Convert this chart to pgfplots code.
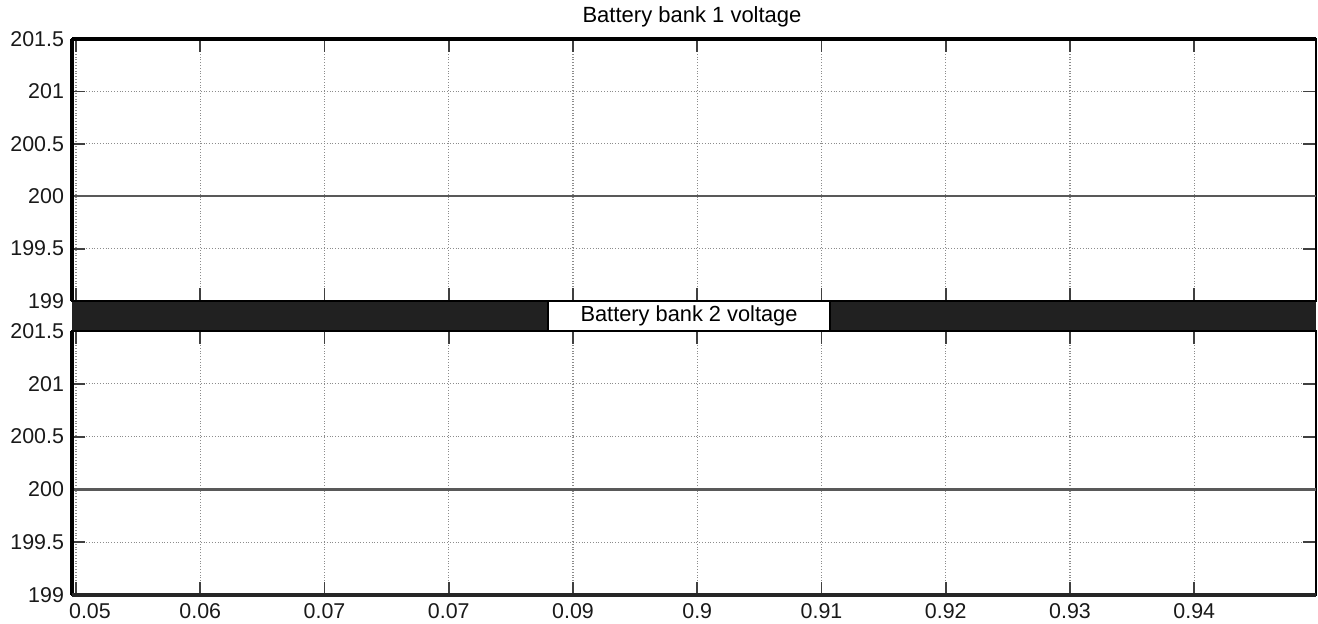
\documentclass[border=0pt]{standalone}
\usepackage{pgfplots}
\pgfplotsset{compat=1.18}
\usetikzlibrary{calc}
\usepackage{fontspec}
\setmainfont{Liberation Sans}
\pgfplotsset{
  battery/.style={
    width=622pt, height=131pt, scale only axis,
    xmin=-0.032, xmax=9.98, ymin=199, ymax=201.5,
    xtick={0,...,9},
    ytick={199,199.5,200,200.5,201,201.5},
    yticklabels={199,199.5,200,200.5,201,201.5},
    tick pos=both,
    major tick length=6.5pt,
    tick style={line width=0.9pt, color=black!75},
    grid=major,
    major grid style={densely dotted, color=black!45, line width=0.6pt},
    axis line style={line width=1pt, black},
    tick label style={font=\fontsize{10.7}{12}\selectfont, text=black!90},
    yticklabel style={xshift=-0.5pt},
    /pgf/number format/assume math mode=true,
    clip=false,
  }
}
\begin{document}%
\begin{tikzpicture}
\begin{axis}[battery, name=top, at={(0,0)}, anchor=north west,
  xticklabels={}]
\addplot[color=black!65, line width=1.1pt] coordinates {(-0.032,200) (9.98,200)};
\end{axis}
\begin{axis}[battery, name=bot, at={(0,-146pt)}, anchor=north west, height=132pt,
  xticklabels={\hspace*{14pt}0.05,0.06,0.07,0.07,0.09,0.9,0.91,0.92,0.93,0.94},
  xticklabel style={inner sep=1pt, yshift=-3pt}]
\addplot[color=black!65, line width=1.1pt] coordinates {(-0.032,200) (9.98,200)};
\end{axis}
% band between the two axes
\fill[black!87] (top.south west) rectangle (bot.north east);
\draw[line width=1pt] (top.south west) -- (top.south east);
\draw[line width=1pt] (bot.north west) -- (bot.north east);
\node[fill=white, draw=black, line width=0.6pt, minimum width=141pt, minimum height=15pt, inner sep=0pt,
  font=\fontsize{10.9}{12}\selectfont]
  at ($ (top.south)!0.5!(bot.north) + (-2.5pt,0) $) {Battery bank 2 voltage};
% heavier frame edges
\draw[line width=2pt] (top.north west) -- (top.north east);
\draw[line width=2pt] (top.north west) -- (top.south west);
\draw[line width=2pt] (bot.north west) -- (bot.south west);
\draw[line width=2pt, black!85] (bot.south west) -- (bot.south east);
\node[anchor=base, yshift=8.5pt, font=\fontsize{11}{12}\selectfont] at ($(top.north)+(-1pt,0)$) {Battery bank 1 voltage};
\pgfresetboundingbox
\path[use as bounding box] (-36pt,19.5pt) rectangle (623pt,-292pt);
\end{tikzpicture}%
\end{document}
